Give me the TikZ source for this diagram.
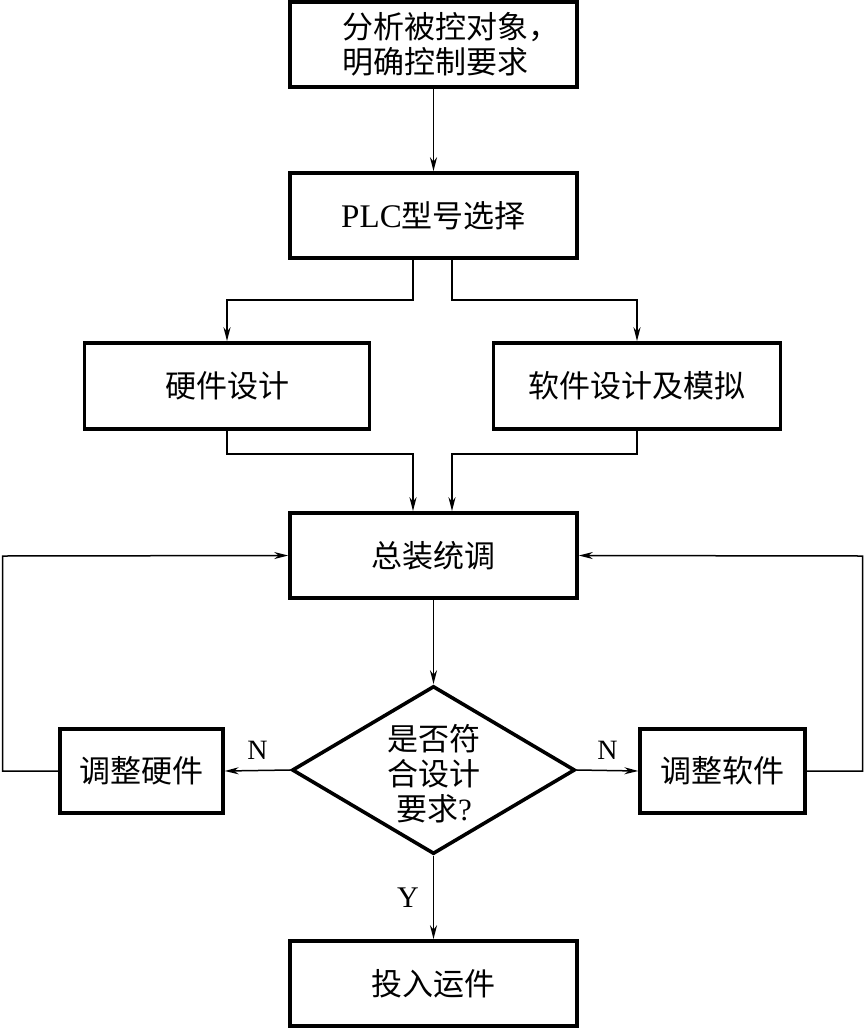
\documentclass[tikz,border=0pt]{standalone}
\usepackage{fontspec}
\setmainfont{Liberation Serif}
\newfontfamily\cjk{Noto Sans CJK SC}
\newcommand\cjkfs{\cjk\fontsize{31}{35}\selectfont}
\usetikzlibrary{arrows.meta,shapes.geometric}
\begin{document}
\begin{tikzpicture}[x=1pt,y=-1pt,
  blk/.style={draw, line width=3.6pt, minimum width=287pt, minimum height=85pt, inner sep=0pt, align=center, font=\cjkfs},
  sblk/.style={blk, minimum width=163pt, minimum height=84pt, line width=3.3pt},
  conn/.style={line width=1.5pt, -{Stealth[length=14pt,width=7pt,inset=4.5pt]}},
  lab/.style={font=\fontsize{28}{28}\selectfont, inner sep=0pt}]
\useasboundingbox (0,0) rectangle (865,1029);
% nodes
\node[blk, align=left] (b1) at (433.5,44.5) {\hspace*{34pt}分析被控对象，\\\hspace*{34pt}明确控制要求};
\node[blk] (b2) at (433.5,215.5) {{\rmfamily\fontsize{33}{35}\selectfont PLC}型号选择};
\node[blk, minimum width=285pt, minimum height=86pt] (b3) at (227,386) {硬件设计};
\node[blk, minimum width=287pt, minimum height=86pt] (b4) at (637,386) {软件设计及模拟};
\node[blk] (b5) at (433.5,555.5) {总装统调};
\node[diamond, draw, line width=3.6pt, minimum width=283pt, minimum height=168pt, inner sep=0pt] (d) at (433.5,770) {};
\node[align=center, font=\cjkfs] (dt) at (434,774) {是否符\\合设计\\要求{\rmfamily ?}};
\node[sblk] (hw) at (141.5,771) {调整硬件};
\node[sblk, minimum width=165pt] (sw) at (722.5,771) {调整软件};
\node[blk] (b6) at (433.5,983.5) {投入运件};
% coordinates
\coordinate (xl) at (413,300);
\coordinate (xr) at (452,300);
\coordinate (yl) at (413,454);
\coordinate (yr) at (452,454);
\coordinate (fl) at (2.5,556);
\coordinate (fr) at (862.5,556);
% connectors
\draw[conn] (b1.south) -- (b2.north);
\draw[conn] (b2.south -| xl) -- (xl) -| (b3.north);
\draw[conn] (b2.south -| xr) -- (xr) -| (b4.north);
\draw[conn] (b3.south) |- (yl) -- (b5.north -| yl);
\draw[conn] (b4.south) |- (yr) -- (b5.north -| yr);
\draw[conn] (b5.south) -- (d.north);
\draw[conn] (d.west) -- node[lab, above=10pt] (nl) {N} (hw.east);
\draw[conn] (d.east) -- node[lab, above=10pt] (nr) {N} (sw.west);
\draw[conn] (d.south) -- node[lab, left=14pt, font=\fontsize{30}{30}\selectfont] (ny) {Y} (b6.north);
\draw[conn] (hw.west) -| (fl) -- (b5.west);
\draw[conn] (sw.east) -| (fr) -- (b5.east);
\end{tikzpicture}
\end{document}
